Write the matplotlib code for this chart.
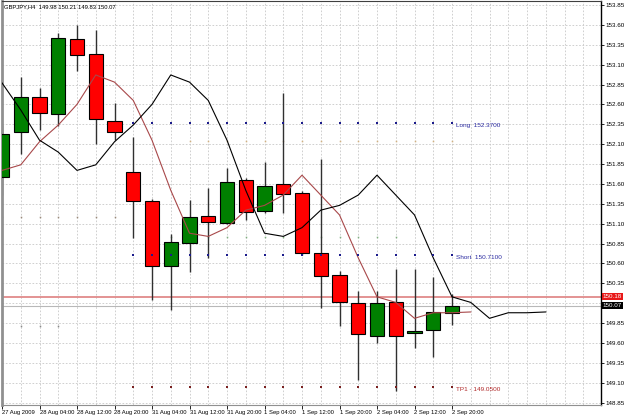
#%% Imports
import numpy as np
import matplotlib
matplotlib.use('Agg')
import matplotlib.pyplot as plt
import matplotlib.transforms as mtransforms

#%% Data (GBPJPY H4)
bar_open  = [151.69, 152.25, 152.69, 152.48, 153.42, 153.23, 152.39, 151.75, 151.38, 150.57,
             150.86, 151.20, 151.11, 151.65, 151.26, 151.60, 151.48, 150.73, 150.45, 150.10,
             149.69, 150.11, 149.72, 149.76, 149.98]
bar_high  = [152.34, 152.94, 152.81, 153.50, 153.60, 153.54, 152.62, 152.19, 151.41, 150.97,
             151.40, 151.55, 151.80, 151.67, 151.88, 152.74, 151.51, 151.91, 150.50, 150.25,
             150.25, 150.53, 150.53, 150.43, 150.21]
bar_low   = [151.46, 151.98, 152.28, 152.33, 153.02, 152.10, 152.15, 150.92, 150.14, 150.01,
             150.49, 150.67, 151.10, 151.15, 151.23, 151.23, 150.70, 150.04, 149.81, 149.13,
             149.60, 148.99, 149.54, 149.42, 149.83]
bar_close = [152.23, 152.69, 152.49, 153.43, 153.22, 152.42, 152.25, 151.38, 150.57, 150.87,
             151.18, 151.12, 151.62, 151.25, 151.57, 151.47, 150.73, 150.44, 150.11, 149.71,
             150.10, 149.69, 149.75, 149.99, 150.07]

# moving averages (the black one runs further to the right)
ma_red   = [151.77, 151.84, 152.13, 152.34, 152.60, 152.97, 152.88, 152.65, 152.15, 151.52,
            150.98, 150.94, 151.05, 151.27, 151.33, 151.46, 151.71, 151.46, 151.21, 150.67,
            150.18, 150.11, 149.91, 149.98, 149.98, 149.99]
ma_black = [152.87, 152.53, 152.15, 152.00,
            151.77, 151.84, 152.13, 152.34, 152.60, 152.97, 152.88, 152.65, 152.15, 151.52,
            150.98, 150.94, 151.05, 151.27, 151.33, 151.46, 151.71, 151.46, 151.21, 150.67,
            150.18, 150.11, 149.91, 149.98, 149.98, 149.99]

date_labels = ['27 Aug 2009', '28 Aug 04:00', '28 Aug 12:00', '28 Aug 20:00', '31 Aug 04:00',
               '31 Aug 12:00', '31 Aug 20:00', '1 Sep 04:00', '1 Sep 12:00', '1 Sep 20:00',
               '2 Sep 04:00', '2 Sep 12:00', '2 Sep 20:00']

long_level  = 152.37
short_level = 150.71
tp1_level   = 149.05
bid_level   = 150.07
ask_level   = 150.18
level_bars  = (7, 24)     # first/last bar of the dotted order levels

# faint extra levels (price, first bar, last bar, colour)
faint_levels = [(151.18, 0, 6, '#9a8a7a'), (149.81, 0, 3, '#8a8a8a'),
                (152.14, 10, 24, '#d0b080'), (150.93, 8, 21, '#80b080')]

title_txt = 'GBPJPY,H4  149.98 150.21 149.83 150.07'

# Plotting params
_W, _H   = 625, 416
_px_bar  = 18.75
y_range  = (148.82, 153.90)
yticks   = np.arange(148.85, 153.86, 0.25)
fonts    = ['Liberation Sans', 'DejaVu Sans']
fs_small = 4.2

#%% Figure
plt.rcParams['font.family'] = fonts
fig = plt.figure(figsize=(_W / 100, _H / 100), dpi=100)
ax = fig.add_axes([2 / _W, 11 / _H, 599 / _W, 404 / _H])
ax.set_xlim(0, 599 / _px_bar)
ax.set_ylim(*y_range)

# grid
ax.set_yticks(yticks)
# 150.10 sits under the bid/ask boxes on the scale
ax.set_yticklabels(['' if abs(t - 150.10) < 1e-6 else f'{t:.2f}' for t in yticks])
for xg in np.arange(0, 32):
    ax.axvline(xg, color='#c8c8c8', lw=0.6, ls=(0, (2, 2)), zorder=0)
for yg in yticks:
    ax.axhline(yg, color='#c8c8c8', lw=0.6, ls=(0, (2, 2)), zorder=0)

# bid / ask lines
ax.axhline(ask_level, color='#e08a8a', lw=1.3, zorder=1)
ax.axhline(bid_level, color='#b8b8b8', lw=0.8, zorder=1)

# candles
n = len(bar_open)
idx = np.arange(n)
o = np.array(bar_open); c = np.array(bar_close)
up = c >= o
body_col = np.where(up, '#008000', '#ff0000')
ax.vlines(idx, bar_low, bar_high, color='#303030', lw=1.0, zorder=2)
ax.bar(idx, c - o, bottom=o, width=0.75, color=body_col, edgecolor='black', lw=0.8, zorder=3)

# moving averages
ax.plot(np.arange(len(ma_red)), ma_red, color='#a8484a', lw=0.8, zorder=4)
ax.plot(np.arange(len(ma_black)), ma_black, color='black', lw=0.8, zorder=4)

# dotted order levels
lv_x = np.arange(level_bars[0], level_bars[1] + 1)
for lvl, col in [(long_level, '#1c1c8c'), (short_level, '#1c1c8c'), (tp1_level, '#7a2020')]:
    ax.plot(lv_x, np.full(len(lv_x), lvl), ls='none', marker='s', ms=1.6, mew=0, color=col, zorder=5)
for lvl, b0, b1, col in faint_levels:
    fx = np.arange(b0, b1 + 1)
    ax.plot(fx, np.full(len(fx), lvl), ls='none', marker='s', ms=1.1, mew=0, color=col, zorder=1)
ax.text(24.2, long_level - 0.04, 'Long  152.3700', color='#2a2aa0', fontsize=4.6, va='center')
ax.text(24.2, short_level - 0.04, 'Short  150.7100', color='#2a2aa0', fontsize=4.6, va='center')
ax.text(24.2, tp1_level - 0.04, 'TP1 - 149.0500', color='#b02828', fontsize=4.6, va='center')

# axes cosmetics
ax.yaxis.tick_right()
ax.tick_params(axis='y', length=2, width=0.6, pad=1, labelsize=4.5, colors='black')
ax.set_xticks(np.arange(0, 25, 2))
ax.set_xticklabels(date_labels)
ax.tick_params(axis='x', length=3, width=0.6, pad=0.5, labelsize=fs_small)
for lbl in ax.get_xticklabels():
    lbl.set_ha('left')
ax.spines['right'].set_color('black')
ax.spines['right'].set_linewidth(1.0)
ax.spines['left'].set_color('#909090')
ax.spines['left'].set_linewidth(2.0)
ax.spines['bottom'].set_color('#909090')
ax.spines['top'].set_color('#404040')

# price boxes on the scale
trans = mtransforms.blended_transform_factory(ax.transAxes, ax.transData)
ax.text(1.003, ask_level, f'{ask_level:.2f}', transform=trans, fontsize=4.5, color='white',
        va='center', ha='left', bbox=dict(boxstyle='square,pad=0.15', fc='#e81818', ec='none'))
ax.text(1.003, bid_level, f'{bid_level:.2f}', transform=trans, fontsize=4.5, color='white',
        va='center', ha='left', bbox=dict(boxstyle='square,pad=0.15', fc='black', ec='none'))

ax.text(0.004, 0.993, title_txt, transform=ax.transAxes, fontsize=fs_small, va='top', ha='left')

fig.savefig('out.png', dpi=100)
